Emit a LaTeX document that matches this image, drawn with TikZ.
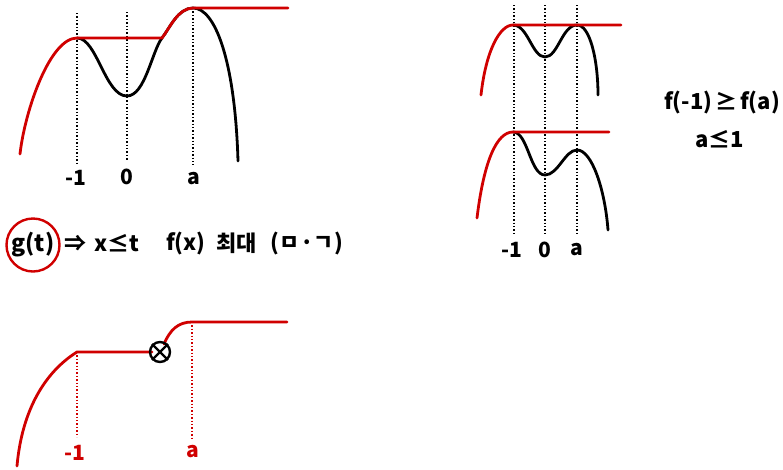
\documentclass[tikz,border=0pt]{standalone}
\usepackage{fontspec}
\setmainfont{Noto Sans CJK KR}
\definecolor{pen}{RGB}{208,0,0}
\tikzset{
  blk/.style={line width=2.8pt, line cap=round, black},
  rd/.style={line width=2.8pt, line cap=round, pen},
  dotl/.style={line width=1.4pt, dash pattern=on 1.4pt off 2pt},
  lbl/.style={font=\fontsize{21}{24}\selectfont\bfseries, inner sep=0pt},
  txt/.style={font=\fontsize{22}{24}\selectfont\bfseries, inner sep=0pt, anchor=west}
}
\begin{document}
\begin{tikzpicture}[x=1pt,y=-1pt]
\useasboundingbox (0,0) rectangle (783,469);
% ---------- top-left graph ----------
\coordinate (A1) at (77,38);
\coordinate (A0) at (127,96);
\coordinate (AC) at (162,38);
\coordinate (AA) at (193,8);
\coordinate (AS) at (20,154);
\coordinate (AE) at (238,161);
\coordinate (AR) at (288,8);
\draw[dotl] (77,13) -- (77,165);
\draw[dotl] (127,12) -- (127,160);
\draw[dotl] (193,8) -- (193,165);
\draw[blk] (A1) .. controls (97,38) and (105,96) .. (A0)
  .. controls (145,96) and (152,51) .. (AC)
  .. controls (170,27.6) and (178,8) .. (AA)
  .. controls (215,8) and (235,60) .. (AE);
\draw[rd] (AS) .. controls (25,110) and (50,38) .. (A1) -- (AC)
  .. controls (170,27.6) and (178,8) .. (AA) -- (AR);
\node[lbl] (la1) at (76,178) {-1};
\node[lbl] (la0) at (127,177) {0};
\node[lbl] (laa) at (194,179) {a};
% ---------- middle text ----------
\node[draw=pen, line width=2.4pt, circle, minimum size=53pt, inner sep=0pt, font=\fontsize{23}{26}\selectfont\bfseries] (gt) at (33,245) {g(t)};
\node[txt] (arr) at (64,243) {⇒};
\node[txt] (xle) at (94,243) {x≤t};
\node[txt] (fx) at (166,243) {f(x)};
\node[txt] (maxk) at (216,243) {최대};
\node[txt] (par) at (270,243) {(\hspace{1pt}ㅁ·ㄱ\hspace{1pt})};
% ---------- bottom graph ----------
\coordinate (B1) at (77,352);
\coordinate (BX) at (160,352);
\coordinate (BA) at (192,322);
\draw[dotl, pen] (77,352) -- (77,437);
\draw[dotl, pen] (192,322) -- (192,438);
\draw[rd] (17,466) .. controls (22,410) and (45,372) .. (B1) -- (152,352);
\draw[rd] (164,344) .. controls (170,330) and (178,322) .. (BA) -- (287,322);
\node[draw, circle, line width=2.4pt, minimum size=20pt, inner sep=0pt] (bx) at (BX) {};
\draw[line width=2.4pt] (bx.north west) -- (bx.south east) (bx.north east) -- (bx.south west);
\node[lbl, pen] (lb1) at (75,453) {-1};
\node[lbl, pen] (lba) at (193,452) {a};
% ---------- right graphs ----------
\draw[dotl] (514,5) -- (514,233);
\draw[dotl] (545,5) -- (545,233);
\draw[dotl] (577,5) -- (577,233);
% upper
\coordinate (U1) at (513,25);
\coordinate (U0) at (545,57);
\coordinate (UA) at (577,25);
\draw[blk] (U1) .. controls (528,25) and (532,57) .. (U0)
  .. controls (558,57) and (562,25) .. (UA)
  .. controls (590,25) and (598,60) .. (598,95);
\draw[rd] (481,95) .. controls (486,50) and (500,25) .. (U1) -- (621,25);
% lower
\coordinate (L1) at (513,132);
\coordinate (L0) at (545,175);
\coordinate (LA) at (577,150);
\draw[blk] (L1) .. controls (528,132) and (530,175) .. (L0)
  .. controls (558,175) and (565,150) .. (LA)
  .. controls (592,150) and (605,190) .. (608,230);
\draw[rd] (477,218) .. controls (484,160) and (497,132) .. (L1) -- (609,132);
\node[lbl] (lr1) at (512,250) {-1};
\node[lbl] (lr0) at (545,250) {0};
\node[lbl] (lra) at (577,250) {a};
\node[lbl, font=\fontsize{22}{24}\selectfont\bfseries] (ineq) at (722,103) {f(-1)\hspace{3pt}≥\hspace{3pt}f(a)};
\node[lbl, font=\fontsize{22}{24}\selectfont\bfseries] (ale) at (720,139) {a≤1};
\end{tikzpicture}
\end{document}
